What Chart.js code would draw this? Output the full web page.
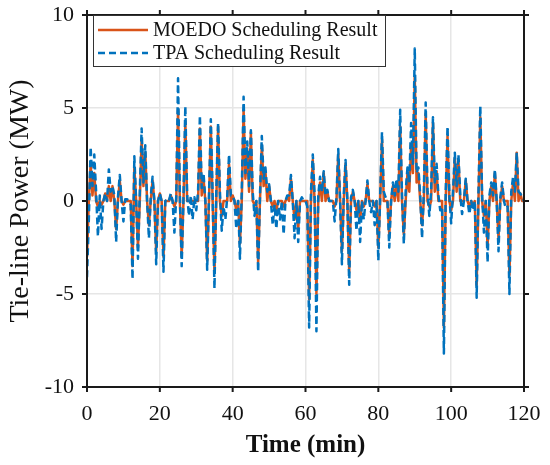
<!DOCTYPE html>
<html>
<head>
<meta charset="utf-8">
<script src="https://cdn.jsdelivr.net/npm/chart.js@4.4.1/dist/chart.umd.min.js"></script>
<style>
  html, body { margin:0; padding:0; background:#fff; }
  canvas { display:block; }
</style>
</head>
<body>
<canvas id="chart" width="550" height="465" style="width:550px;height:465px"></canvas>
<script>
// ---- data (MW), one value every half minute from 0 to 120 min
const STEP_MIN = 0.5;
const X_TICKS = [0, 20, 40, 60, 80, 100, 120];
const Y_TICKS = [-10, -5, 0, 5, 10];

const TPA = [
  -4.1,-1.0,2.9,0.8,2.5,0.5,-1.9,0.3,-1.5,0, 0.4,0,1.7,0.5,0.8,0.3,-2.2,0.2,1.4,0,
  -1.1,0.1,0.1,0,-0.2,-4.2,2.4,0,-3.1,0.5, 3.9,1.0,3.0,0,-2.0,0.2,1.3,0,-3.4,0,
  0.4,0,-3.8,0,0.1,0,0.4,0,-1.7,0.2, 6.6,0.3,-3.5,0.2,5.1,0.3,-0.8,0.3,-1.0,0.2,
  -0.5,0.5,4.6,0.7,1.5,0,-3.7,0.3,4.4,0.3, -4.7,0.5,4.2,0.5,-1.6,-0.3,-1.0,0.2,2.5,0.3,
  0.3,0,-1.5,0,-3.1,0.5,5.6,1.5,3.2,0.8, 3.8,0.5,-0.8,0,-3.8,0.3,3.5,1.2,1.8,0.5,
  0.9,0,-1.3,-0.2,-1.5,0,-1.0,0,-1.8,0, 0.3,0.3,1.4,0,-2.0,0,-2.2,0,0.2,0,
  0,-0.3,-6.8,0.5,2.5,0.3,-7.0,0.3,1.3,0.5, 1.6,0.3,0.6,0,0,0,-1.1,0.2,2.8,0,
  -3.4,0.3,2.2,0,-4.5,0.2,0.6,0,-1.6,0, -2.2,0,-1.0,0,1.1,0,-0.6,0,-1.3,0,
  -3.2,0.3,3.7,0.5,0.2,0,-2.5,0,1.0,0.3, 1.2,0.5,4.9,0.3,-2.3,0.5,1.8,1.0,4.2,2.0,
  8.2,1.5,1.8,0.3,-2.0,0.5,5.3,0.5,-0.8,0.5, 4.5,1.0,2.0,0.3,-0.5,-0.3,-8.2,0.5,4.0,0.3,
  -1.2,0.5,2.6,0.8,2.5,0.3,-0.7,0,1.2,0, -0.7,0,-0.5,0,-5.2,0.5,5.1,0.3,-1.7,0,
  -3.3,0.3,1.0,0.3,1.7,0,-2.7,0.2,1.0,0, -0.4,-0.3,-5.0,0.5,1.3,0.5,2.6,0.5,0.4,0.2,
  0
];

const MOEDO = [
  -3.0,0,2.0,0.3,1.5,0,-0.3,0,-0.2,0, 0.4,0,0.8,0,0.8,0,-1.5,0,1.1,0,
  -0.2,0,0,0,0,-3.5,1.8,0,-2.5,0, 3.3,0.8,2.6,0,-1.3,0,1.1,0,-2.7,0,
  0.4,0,-3.0,0,0,0,0.3,0,-0.3,0, 4.9,0,-3.0,0,4.3,0,0,0,0,0,
  0,0,3.9,0.3,1.2,0,-3.2,0,4.0,0, -3.8,0,4.0,0,-0.8,0,0,0,2.0,0,
  0.3,0,-0.5,0,-2.3,0,4.9,1.2,2.8,0.5, 3.7,0,-0.2,0,-3.3,0,3.0,0.8,1.6,0,
  0.8,0,-0.3,0,-0.5,0,0,0,-0.3,0, 0.2,0,1.2,0,-1.0,0,-1.5,0,0,0,
  0,0,-5.3,0,2.2,0,-5.0,0,1.0,0, 1.5,0,0.5,0,0,0,-0.3,0,2.5,0,
  -2.7,0,2.0,0,-3.8,0,0.5,0,-0.5,0, -1.0,0,-0.3,0,0.9,0,0,0,-0.3,0,
  -2.5,0,3.3,0,0,0,-1.8,0,0.8,0, 1.0,0,4.0,0,-1.8,0,1.5,0.5,3.0,1.5,
  6.7,1.0,1.5,0,-1.3,0,4.7,0,-0.3,0, 4.2,0.5,1.6,0,0,0,-6.8,0,3.5,0,
  -0.5,0,2.3,0.5,2.2,0,0,0,1.1,0, -0.3,0,-0.2,0,-4.5,0,4.5,0,-0.8,0,
  -2.5,0,0.8,0,1.5,0,-2.0,0,0.8,0, 0,0,-4.0,0,1.0,0,2.6,0,0.4,0,
  0
];

const SERIES_NAMES = ['MOEDO Scheduling Result', 'TPA Scheduling Result'];
const ORANGE = '#D95319', BLUE = '#0072BD';
const SERIF = "'Liberation Serif','Times New Roman',serif";

const toPoints = vals => vals.map((v, i) => ({ x: i * STEP_MIN, y: v }));

// ---- box + outward ticks on all four sides (matlab look)
const frame = {
  id:'frame',
  afterDatasetsDraw(chart){
    const {ctx, chartArea:a, scales:{x, y}} = chart;
    ctx.save();
    ctx.strokeStyle = '#1a1a1a';
    ctx.lineWidth = 2;
    ctx.strokeRect(a.left, a.top, a.right - a.left, a.bottom - a.top);
    ctx.beginPath();
    X_TICKS.forEach(v => {
      const px = x.getPixelForValue(v);
      ctx.moveTo(px, a.top);    ctx.lineTo(px, a.top - 5);
      ctx.moveTo(px, a.bottom); ctx.lineTo(px, a.bottom + 5);
    });
    Y_TICKS.forEach(v => {
      const py = y.getPixelForValue(v);
      ctx.moveTo(a.left, py);  ctx.lineTo(a.left - 5, py);
      ctx.moveTo(a.right, py); ctx.lineTo(a.right + 5, py);
    });
    ctx.stroke();
    ctx.restore();
  }
};

// ---- boxed legend, top-left inside plot
const boxLegend = {
  id:'boxLegend',
  afterDraw(chart){
    const {ctx, chartArea:a} = chart;
    const left = a.left + 6, top = a.top, w = 292, h = 51;
    ctx.save();
    ctx.fillStyle = '#fff';
    ctx.fillRect(left, top, w, h);
    ctx.strokeStyle = '#333';
    ctx.lineWidth = 1;
    ctx.strokeRect(left + 0.5, top + 0.5, w, h);
    ctx.font = `20px ${SERIF}`;
    ctx.textBaseline = 'middle';
    chart.data.datasets.forEach((ds, i) => {
      const cy = top + 15 + i * 23;
      ctx.beginPath();
      ctx.strokeStyle = ds.borderColor;
      ctx.lineWidth = ds.borderWidth;
      ctx.setLineDash(ds.borderDash || []);
      ctx.moveTo(left + 5, cy);
      ctx.lineTo(left + 55, cy);
      ctx.stroke();
      ctx.setLineDash([]);
      ctx.fillStyle = '#111';
      ctx.fillText(ds.label, left + 60, cy + 1);
    });
    ctx.restore();
  }
};

new Chart(document.getElementById('chart').getContext('2d'), {
  type:'line',
  data:{
    datasets:[
      { label:SERIES_NAMES[0], data:toPoints(MOEDO), borderColor:ORANGE, borderWidth:2.5,
        pointRadius:0, tension:0, borderJoinStyle:'round', order:2 },
      { label:SERIES_NAMES[1], data:toPoints(TPA), borderColor:BLUE, borderWidth:2.5,
        borderDash:[7,4], pointRadius:0, tension:0, borderJoinStyle:'round', order:1 }
    ]
  },
  options:{
    responsive:false,
    animation:false,
    layout:{ padding:{ left:0, right:26, top:15, bottom:0 } },
    plugins:{ legend:{ display:false }, tooltip:{ enabled:false } },
    scales:{
      x:{
        type:'linear', min:0, max:120,
        afterFit: s => { s.height = 78; s.paddingLeft = 0; s.paddingRight = 0; },
        afterBuildTicks: s => { s.ticks = X_TICKS.map(v => ({ value:v })); },
        grid:{ color:'#e6e6e6', lineWidth:1.5, drawTicks:false },
        border:{ display:false },
        ticks:{ color:'#111', padding:14, font:{ family:SERIF, size:22 } },
        title:{ display:true, text:'Time (min)', color:'#111',
                font:{ family:SERIF, size:25, weight:'bold' }, padding:{ top:0, bottom:4 } }
      },
      y:{
        min:-10, max:10,
        afterFit: s => { s.width = 87; s.paddingTop = 0; s.paddingBottom = 0; },
        afterBuildTicks: s => { s.ticks = Y_TICKS.map(v => ({ value:v })); },
        grid:{ color:'#e6e6e6', lineWidth:1.5, drawTicks:false },
        border:{ display:false },
        ticks:{ color:'#111', padding:13, font:{ family:SERIF, size:22 } },
        title:{ display:true, text:'Tie-line Power (MW)', color:'#111',
                font:{ family:SERIF, size:28 }, padding:{ top:4, bottom:0 } }
      }
    }
  },
  plugins:[frame, boxLegend]
});
</script>
</body>
</html>
